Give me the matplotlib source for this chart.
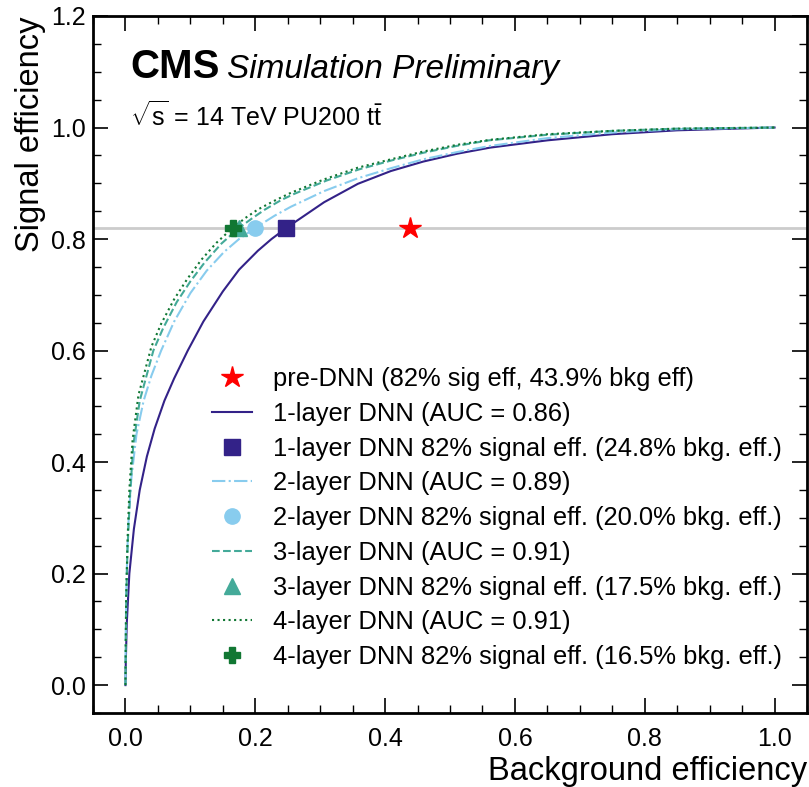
import numpy as np
import matplotlib
matplotlib.use("Agg")
import matplotlib.pyplot as plt
from matplotlib.ticker import MultipleLocator

plt.rcParams["font.family"] = ["Liberation Sans", "DejaVu Sans"]
plt.rcParams["mathtext.fontset"] = "custom"
plt.rcParams["mathtext.rm"] = "Liberation Sans"
plt.rcParams["mathtext.it"] = "Liberation Sans:italic"

# ROC curves (background eff, signal eff)
bkg_1l = [0, 0.0005, 0.002, 0.006, 0.013, 0.022, 0.033, 0.045, 0.06, 0.075,
          0.096, 0.12, 0.15, 0.175, 0.204, 0.225, 0.248, 0.306, 0.358, 0.409,
          0.459, 0.511, 0.562, 0.65, 0.75, 0.85, 1.0]
sig_1l = [0, 0.04, 0.11, 0.20, 0.28, 0.35, 0.41, 0.46, 0.51, 0.55,
          0.60, 0.652, 0.706, 0.745, 0.779, 0.80, 0.82, 0.866, 0.899, 0.922,
          0.939, 0.953, 0.964, 0.977, 0.988, 0.995, 1.0]

bkg_2l = [0, 0.0003, 0.0015, 0.004, 0.009, 0.017, 0.028, 0.04, 0.055, 0.075,
          0.10, 0.125, 0.152, 0.175, 0.20, 0.23, 0.255, 0.306, 0.358, 0.409,
          0.459, 0.511, 0.562, 0.65, 0.75, 0.85, 1.0]
sig_2l = [0, 0.08, 0.18, 0.28, 0.37, 0.45, 0.51, 0.555, 0.60, 0.652,
          0.703, 0.743, 0.777, 0.80, 0.82, 0.842, 0.858, 0.886, 0.909, 0.927,
          0.943, 0.956, 0.967, 0.981, 0.991, 0.997, 1.0]

bkg_3l = [0, 0.001, 0.003, 0.007, 0.012, 0.022, 0.043, 0.058, 0.079, 0.10,
          0.122, 0.148, 0.175, 0.195, 0.215, 0.24, 0.26, 0.31, 0.36, 0.41,
          0.46, 0.51, 0.56, 0.65, 0.75, 0.85, 1.0]
sig_3l = [0, 0.14, 0.24, 0.34, 0.43, 0.51, 0.60, 0.64, 0.687, 0.724,
          0.758, 0.792, 0.82, 0.837, 0.853, 0.87, 0.881, 0.905, 0.925, 0.941,
          0.955, 0.967, 0.977, 0.987, 0.994, 0.998, 1.0]

bkg_4l = [0, 0.001, 0.003, 0.006, 0.011, 0.02, 0.04, 0.055, 0.075, 0.095,
          0.117, 0.14, 0.165, 0.185, 0.204, 0.23, 0.255, 0.306, 0.358, 0.409,
          0.459, 0.511, 0.562, 0.65, 0.75, 0.85, 1.0]
sig_4l = [0, 0.15, 0.25, 0.35, 0.44, 0.52, 0.607, 0.648, 0.692, 0.728,
          0.763, 0.793, 0.82, 0.838, 0.853, 0.869, 0.883, 0.907, 0.928, 0.943,
          0.957, 0.969, 0.978, 0.988, 0.994, 0.998, 1.0]

working_sig = 0.82
predNN_bkg = 0.439
wp_bkg = [0.248, 0.200, 0.175, 0.165]
auc = [0.86, 0.89, 0.91, 0.91]

colors = ["#332288", "#88CCEE", "#44AA99", "#117733"]
styles = ["-", "-.", "--", ":"]
markers = ["s", "o", "^", "P"]

fig = plt.figure(figsize=(8.09, 7.87), dpi=100)
ax = fig.add_axes([93 / 809, 74 / 787, 714 / 809, 697 / 787])

ax.axhline(working_sig, color="#cccccc", lw=2, zorder=1)

ax.plot(predNN_bkg, working_sig, ls="none", marker="*", ms=16, color="red",
        label="pre-DNN (82% sig eff, 43.9% bkg eff)", zorder=5)

curves = [(bkg_1l, sig_1l), (bkg_2l, sig_2l), (bkg_3l, sig_3l), (bkg_4l, sig_4l)]
for i, (bx, sy) in enumerate(curves):
    ax.plot(bx, sy, ls=styles[i], color=colors[i], lw=1.5,
            label=f"{i+1}-layer DNN (AUC = {auc[i]:.2f})", zorder=3)
    ax.plot(wp_bkg[i], working_sig, ls="none", marker=markers[i], ms=11,
            color=colors[i], zorder=4 + i,
            label=f"{i+1}-layer DNN 82% signal eff. ({wp_bkg[i]*100:.1f}% bkg. eff.)")

ax.set_xlim(-0.05, 1.05)
ax.set_ylim(-0.05, 1.2)
ax.xaxis.set_major_locator(MultipleLocator(0.2))
ax.xaxis.set_minor_locator(MultipleLocator(0.05))
ax.yaxis.set_major_locator(MultipleLocator(0.2))
ax.yaxis.set_minor_locator(MultipleLocator(0.05))
ax.tick_params(which="both", direction="in", top=True, right=True, labelsize=18)
ax.tick_params(which="major", length=11, width=1.2)
ax.tick_params(which="minor", length=6, width=1.0)
ax.tick_params(axis="x", which="major", pad=10)
ax.tick_params(axis="y", which="major", pad=5)
for s in ax.spines.values():
    s.set_linewidth(2)

ax.set_xlabel("Background efficiency", fontsize=23.5, ha="right", x=1.0)
ax.set_ylabel("Signal efficiency", fontsize=23.5, ha="right", y=1.0)

ax.text(0.052, 0.911, "CMS", transform=ax.transAxes, fontsize=29,
        fontweight="bold", va="baseline")
ax.text(0.188, 0.911, "Simulation Preliminary", transform=ax.transAxes,
        fontsize=24, style="italic", va="baseline")
ax.text(0.052, 0.842, r"$\sqrt{\mathrm{s}}$ = 14 TeV PU200 t$\bar{\rm t}$",
        transform=ax.transAxes, fontsize=18, va="baseline")

ax.legend(loc="lower right", bbox_to_anchor=(0.997, 0.03), frameon=False,
          fontsize=18.4, handlelength=1.6, handletextpad=0.8, labelspacing=0.42)

fig.savefig("out.png", dpi=100)
